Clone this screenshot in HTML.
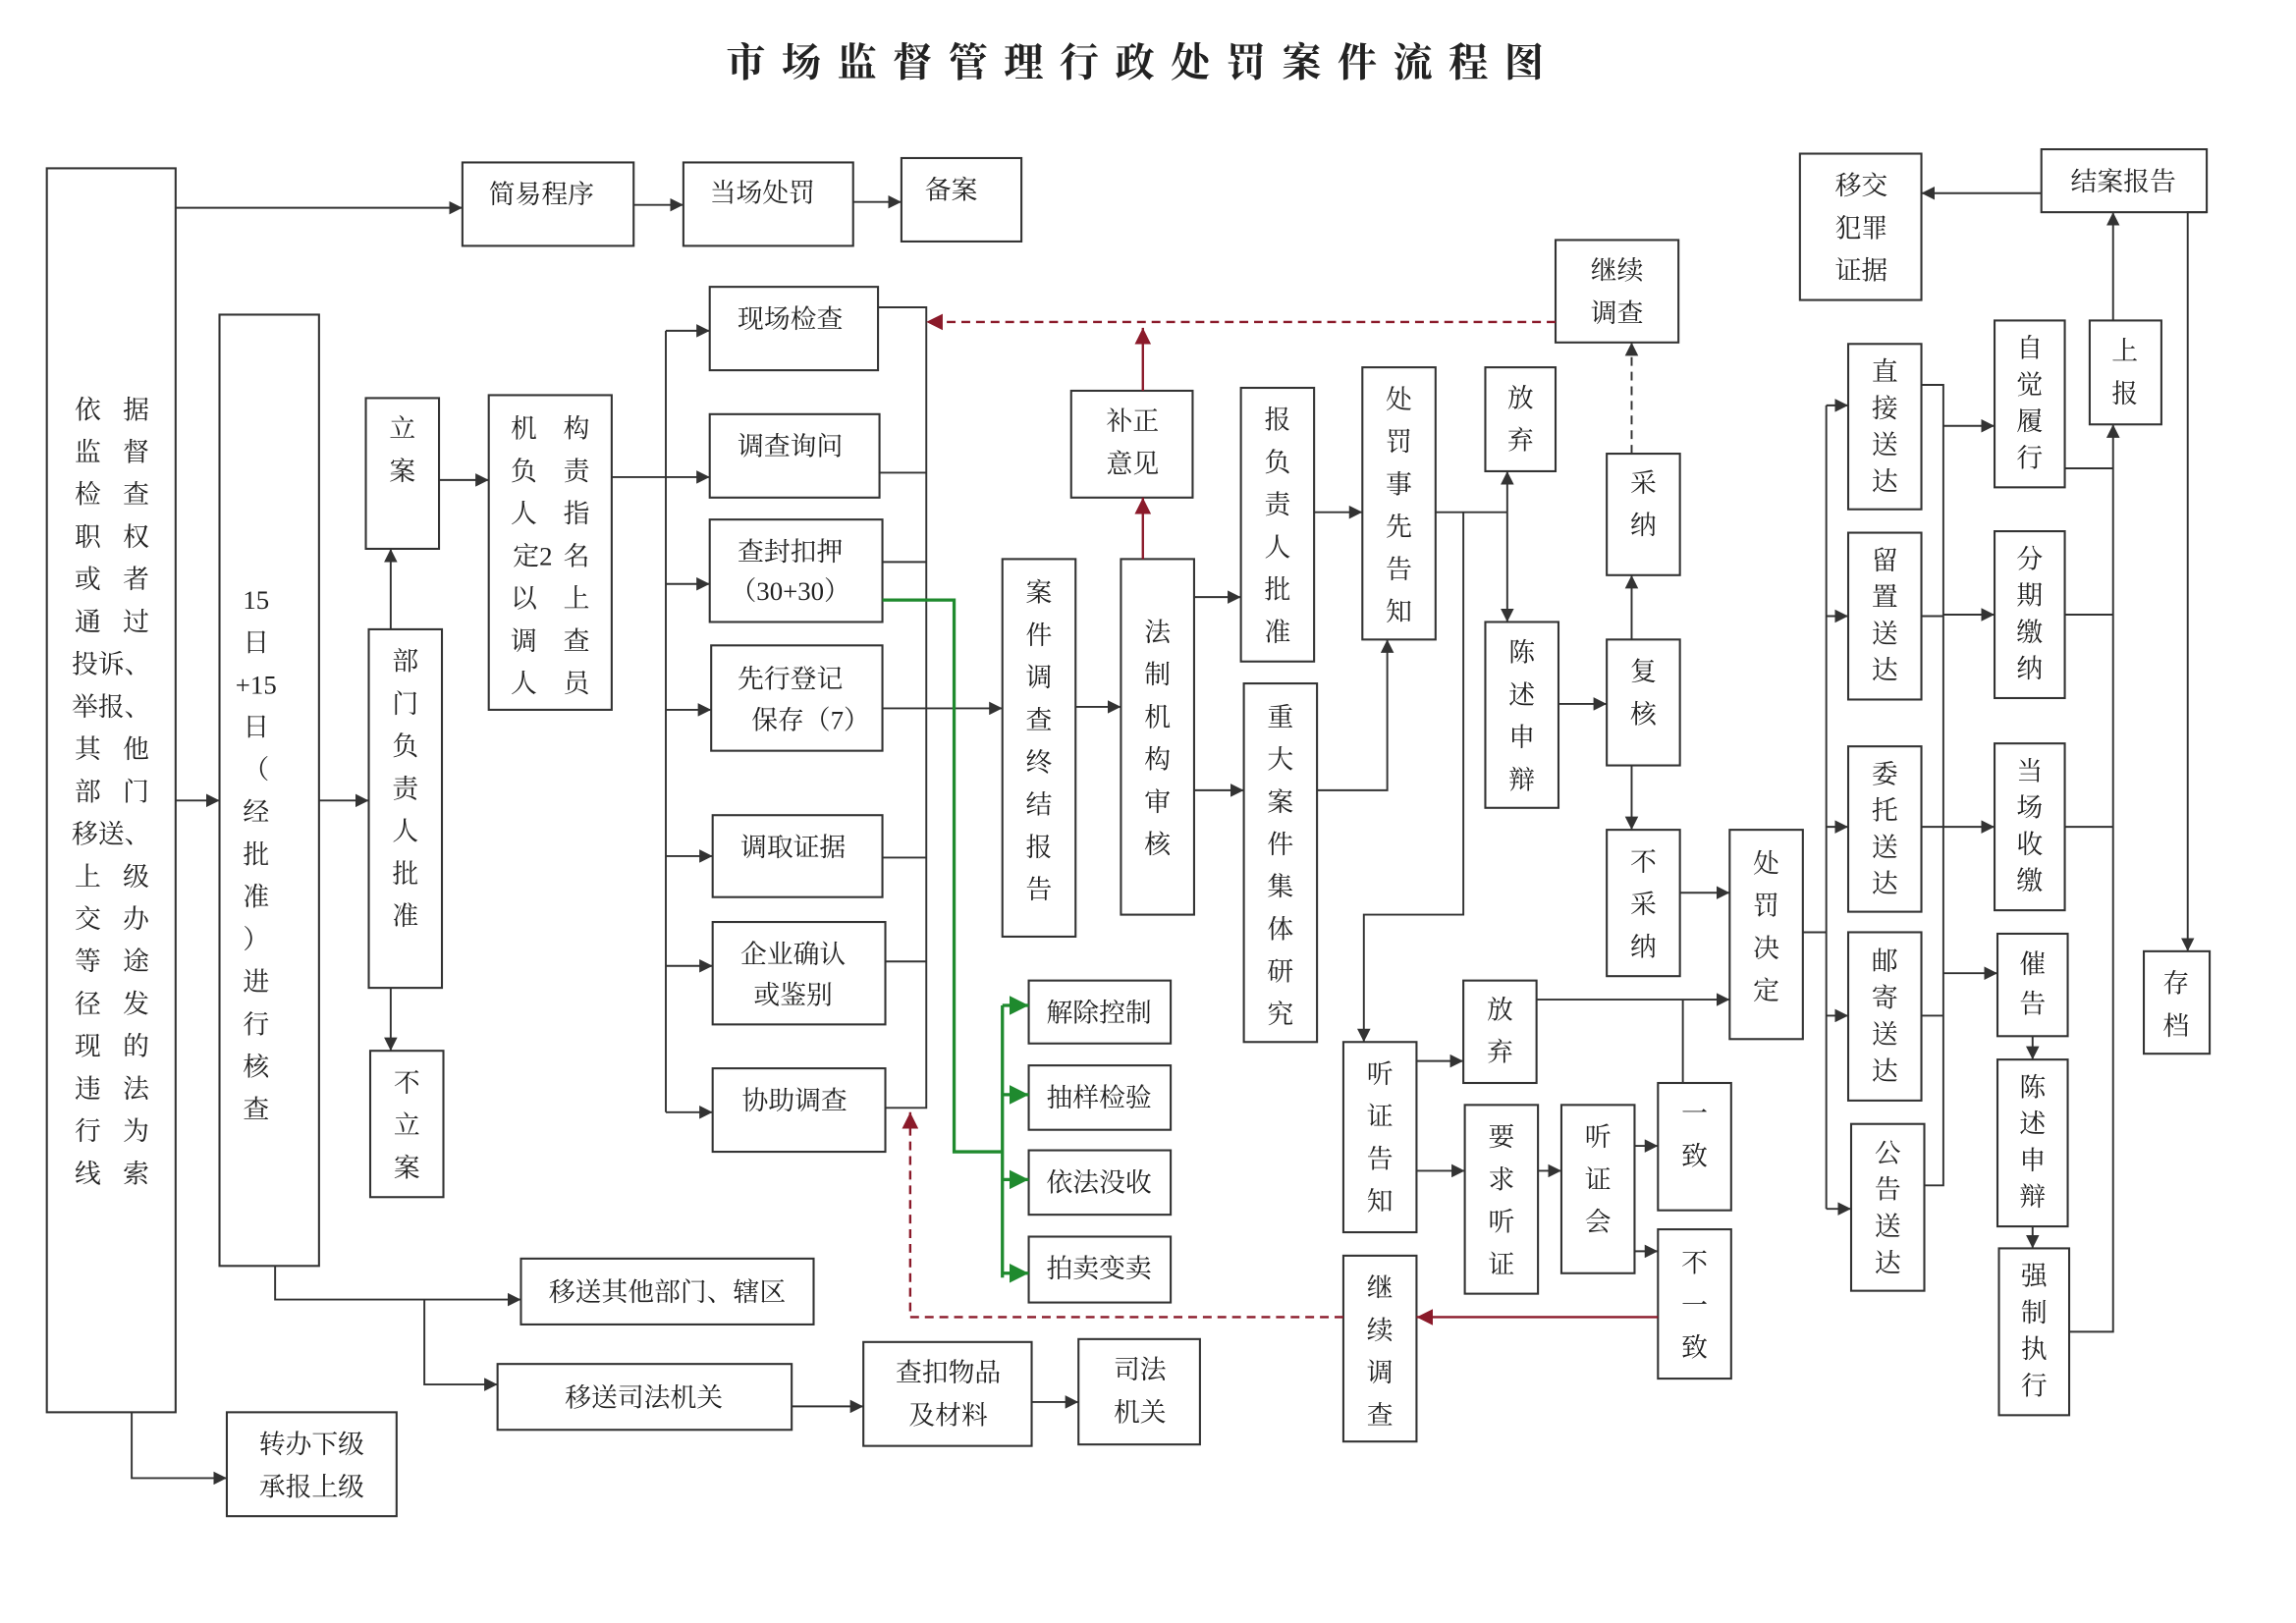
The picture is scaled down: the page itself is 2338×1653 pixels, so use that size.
<!DOCTYPE html>
<html><head><meta charset="utf-8">
<style>
html,body{margin:0;padding:0;background:#fff;}
svg{display:block;}
text{font-family:"Liberation Serif","Noto Serif CJK SC",serif;font-size:18px;fill:#222;}
.t{text-anchor:middle;}
rect{fill:#fff;stroke:#333;stroke-width:1.4;}
.l{fill:none;stroke:#333;stroke-width:1.3;}
.r{fill:none;stroke:#8b1a2a;stroke-width:1.6;}
.rd{fill:none;stroke:#8b1a2a;stroke-width:1.6;stroke-dasharray:6 4;}
.g{fill:none;stroke:#1f8a2e;stroke-width:2.2;}
.d{fill:none;stroke:#333;stroke-width:1.3;stroke-dasharray:6 4;}
</style></head><body>
<svg width="2338" height="1653" viewBox="0 0 1569 1109" preserveAspectRatio="none" xmlns="http://www.w3.org/2000/svg">
<defs>
<marker id="a" viewBox="0 0 10 10" refX="10" refY="5" markerWidth="7" markerHeight="7" orient="auto-start-reverse"><path d="M0,0L10,5L0,10z" fill="#333"/></marker>
<marker id="ar" viewBox="0 0 10 10" refX="10" refY="5" markerWidth="7" markerHeight="7" orient="auto-start-reverse"><path d="M0,0L10,5L0,10z" fill="#8b1a2a"/></marker>
<marker id="ag" viewBox="0 0 10 10" refX="10" refY="5" markerWidth="6" markerHeight="6" orient="auto-start-reverse"><path d="M0,0L10,5L0,10z" fill="#1f8a2e"/></marker>
</defs>

<text x="781" y="52" class="t" style="font-size:27px;font-weight:bold;letter-spacing:11px">市场监督管理行政处罚案件流程图</text>

<!-- Box A -->
<rect x="32" y="115" width="88" height="850"/>
<g class="t">
<text x="60" y="286">依</text><text x="93" y="286">据</text>
<text x="60" y="315">监</text><text x="93" y="315">督</text>
<text x="60" y="344">检</text><text x="93" y="344">查</text>
<text x="60" y="373">职</text><text x="93" y="373">权</text>
<text x="60" y="402">或</text><text x="93" y="402">者</text>
<text x="60" y="431">通</text><text x="93" y="431">过</text>
<text x="76" y="460">投诉、</text>
<text x="76" y="489">举报、</text>
<text x="60" y="518">其</text><text x="93" y="518">他</text>
<text x="60" y="547">部</text><text x="93" y="547">门</text>
<text x="76" y="576">移送、</text>
<text x="60" y="605">上</text><text x="93" y="605">级</text>
<text x="60" y="634">交</text><text x="93" y="634">办</text>
<text x="60" y="663">等</text><text x="93" y="663">途</text>
<text x="60" y="692">径</text><text x="93" y="692">发</text>
<text x="60" y="721">现</text><text x="93" y="721">的</text>
<text x="60" y="750">违</text><text x="93" y="750">法</text>
<text x="60" y="779">行</text><text x="93" y="779">为</text>
<text x="60" y="808">线</text><text x="93" y="808">索</text>
</g>

<!-- Box B -->
<rect x="150" y="215" width="68" height="650"/>
<text class="t" x="175" y="416">15<tspan x="175" dy="29">日</tspan><tspan x="175" dy="29">+15</tspan><tspan x="175" dy="29">日</tspan><tspan x="175" dy="29">（</tspan><tspan x="175" dy="29">经</tspan><tspan x="175" dy="29">批</tspan><tspan x="175" dy="29">准</tspan><tspan x="175" dy="29">）</tspan><tspan x="175" dy="29">进</tspan><tspan x="175" dy="29">行</tspan><tspan x="175" dy="29">核</tspan><tspan x="175" dy="29">查</tspan></text>

<rect x="250" y="272" width="50" height="103"/>
<text class="t" x="275" y="299">立<tspan x="275" dy="29">案</tspan></text>
<rect x="252" y="430" width="50" height="245"/>
<text class="t" x="277" y="458">部<tspan x="277" dy="29">门</tspan><tspan x="277" dy="29">负</tspan><tspan x="277" dy="29">责</tspan><tspan x="277" dy="29">人</tspan><tspan x="277" dy="29">批</tspan><tspan x="277" dy="29">准</tspan></text>
<rect x="253" y="718" width="50" height="100"/>
<text class="t" x="278" y="746">不<tspan x="278" dy="29">立</tspan><tspan x="278" dy="29">案</tspan></text>

<rect x="334" y="270" width="84" height="215"/>
<g class="t">
<text x="358" y="299">机</text><text x="394" y="299">构</text>
<text x="358" y="328">负</text><text x="394" y="328">责</text>
<text x="358" y="357">人</text><text x="394" y="357">指</text>
<text x="364" y="386">定2</text><text x="394" y="386">名</text>
<text x="358" y="415">以</text><text x="394" y="415">上</text>
<text x="358" y="444">调</text><text x="394" y="444">查</text>
<text x="358" y="473">人</text><text x="394" y="473">员</text>
</g>

<!-- top row -->
<rect x="316" y="111" width="117" height="57"/><text class="t" x="370" y="139">简易程序</text>
<rect x="467" y="111" width="116" height="57"/><text class="t" x="521" y="138">当场处罚</text>
<rect x="616" y="108" width="82" height="57"/><text class="t" x="650" y="136">备案</text>

<!-- investigation boxes -->
<rect x="485" y="196" width="115" height="57"/><text class="t" x="540" y="224">现场检查</text>
<rect x="485" y="283" width="116" height="57"/><text class="t" x="540" y="311">调查询问</text>
<rect x="485" y="355" width="118" height="70"/><text class="t" x="540" y="383">查封扣押<tspan x="540" dy="27">（30+30）</tspan></text>
<rect x="486" y="441" width="117" height="72"/><text class="t" x="540" y="470">先行登记<tspan x="554" dy="28">保存（7）</tspan></text>
<rect x="487" y="557" width="116" height="56"/><text class="t" x="542" y="585">调取证据</text>
<rect x="487" y="630" width="118" height="70"/><text class="t" x="542" y="658">企业确认<tspan x="542" dy="28">或鉴别</tspan></text>
<rect x="487" y="730" width="118" height="57"/><text class="t" x="543" y="758">协助调查</text>

<rect x="685" y="382" width="50" height="258"/>
<text class="t" x="710" y="411">案<tspan x="710" dy="29">件</tspan><tspan x="710" dy="29">调</tspan><tspan x="710" dy="29">查</tspan><tspan x="710" dy="29">终</tspan><tspan x="710" dy="29">结</tspan><tspan x="710" dy="29">报</tspan><tspan x="710" dy="29">告</tspan></text>
<rect x="766" y="382" width="50" height="243"/>
<text class="t" x="791" y="438">法<tspan x="791" dy="29">制</tspan><tspan x="791" dy="29">机</tspan><tspan x="791" dy="29">构</tspan><tspan x="791" dy="29">审</tspan><tspan x="791" dy="29">核</tspan></text>
<rect x="732" y="267" width="83" height="73"/><text class="t" x="774" y="294">补正<tspan x="774" dy="29">意见</tspan></text>
<rect x="1063" y="164" width="84" height="70"/><text class="t" x="1105" y="191">继续<tspan x="1105" dy="29">调查</tspan></text>
<rect x="848" y="265" width="50" height="187"/>
<text class="t" x="873" y="293">报<tspan x="873" dy="29">负</tspan><tspan x="873" dy="29">责</tspan><tspan x="873" dy="29">人</tspan><tspan x="873" dy="29">批</tspan><tspan x="873" dy="29">准</tspan></text>
<rect x="850" y="467" width="50" height="245"/>
<text class="t" x="875" y="496">重<tspan x="875" dy="29">大</tspan><tspan x="875" dy="29">案</tspan><tspan x="875" dy="29">件</tspan><tspan x="875" dy="29">集</tspan><tspan x="875" dy="29">体</tspan><tspan x="875" dy="29">研</tspan><tspan x="875" dy="29">究</tspan></text>
<rect x="931" y="251" width="50" height="186"/>
<text class="t" x="956" y="279">处<tspan x="956" dy="29">罚</tspan><tspan x="956" dy="29">事</tspan><tspan x="956" dy="29">先</tspan><tspan x="956" dy="29">告</tspan><tspan x="956" dy="29">知</tspan></text>
<rect x="1015" y="251" width="48" height="71"/><text class="t" x="1039" y="278">放<tspan x="1039" dy="29">弃</tspan></text>
<rect x="1015" y="425" width="50" height="127"/>
<text class="t" x="1040" y="452">陈<tspan x="1040" dy="29">述</tspan><tspan x="1040" dy="29">申</tspan><tspan x="1040" dy="29">辩</tspan></text>
<rect x="1098" y="310" width="50" height="83"/><text class="t" x="1123" y="336">采<tspan x="1123" dy="29">纳</tspan></text>
<rect x="1098" y="437" width="50" height="86"/><text class="t" x="1123" y="465">复<tspan x="1123" dy="29">核</tspan></text>
<rect x="1098" y="567" width="50" height="100"/><text class="t" x="1123" y="595">不<tspan x="1123" dy="29">采</tspan><tspan x="1123" dy="29">纳</tspan></text>
<rect x="1182" y="567" width="50" height="143"/>
<text class="t" x="1207" y="596">处<tspan x="1207" dy="29">罚</tspan><tspan x="1207" dy="29">决</tspan><tspan x="1207" dy="29">定</tspan></text>
<rect x="918" y="712" width="50" height="130"/>
<text class="t" x="943" y="740">听<tspan x="943" dy="29">证</tspan><tspan x="943" dy="29">告</tspan><tspan x="943" dy="29">知</tspan></text>
<rect x="1000" y="670" width="50" height="70"/><text class="t" x="1025" y="696">放<tspan x="1025" dy="29">弃</tspan></text>
<rect x="1001" y="755" width="50" height="129"/>
<text class="t" x="1026" y="783">要<tspan x="1026" dy="29">求</tspan><tspan x="1026" dy="29">听</tspan><tspan x="1026" dy="29">证</tspan></text>
<rect x="1067" y="755" width="50" height="115"/>
<text class="t" x="1092" y="783">听<tspan x="1092" dy="29">证</tspan><tspan x="1092" dy="29">会</tspan></text>
<rect x="1133" y="740" width="50" height="87"/><text class="t" x="1158" y="767">一<tspan x="1158" dy="29">致</tspan></text>
<rect x="1133" y="840" width="50" height="102"/><text class="t" x="1158" y="869">不<tspan x="1158" dy="29">一</tspan><tspan x="1158" dy="29">致</tspan></text>
<rect x="918" y="858" width="50" height="127"/>
<text class="t" x="943" y="886">继<tspan x="943" dy="29">续</tspan><tspan x="943" dy="29">调</tspan><tspan x="943" dy="29">查</tspan></text>

<!-- green boxes -->
<rect x="703" y="670" width="97" height="43"/><text class="t" x="751" y="698">解除控制</text>
<rect x="703" y="728" width="97" height="44"/><text class="t" x="751" y="756">抽样检验</text>
<rect x="703" y="786" width="97" height="44"/><text class="t" x="751" y="814">依法没收</text>
<rect x="703" y="845" width="97" height="45"/><text class="t" x="751" y="873">拍卖变卖</text>

<!-- bottom -->
<rect x="356" y="860" width="200" height="45"/><text class="t" x="456" y="889">移送其他部门、辖区</text>
<rect x="340" y="932" width="201" height="45"/><text class="t" x="440" y="961">移送司法机关</text>
<rect x="590" y="917" width="115" height="71"/><text class="t" x="648" y="944">查扣物品<tspan x="648" dy="29">及材料</tspan></text>
<rect x="737" y="915" width="83" height="72"/><text class="t" x="779" y="942">司法<tspan x="779" dy="29">机关</tspan></text>
<rect x="155" y="965" width="116" height="71"/><text class="t" x="213" y="993">转办下级<tspan x="213" dy="29">承报上级</tspan></text>

<!-- right part -->
<rect x="1230" y="105" width="83" height="100"/><text class="t" x="1272" y="133">移交<tspan x="1272" dy="29">犯罪</tspan><tspan x="1272" dy="29">证据</tspan></text>
<rect x="1395" y="102" width="113" height="43"/><text class="t" x="1451" y="130">结案报告</text>
<rect x="1428" y="219" width="49" height="71"/><text class="t" x="1452" y="246">上<tspan x="1452" dy="29">报</tspan></text>
<rect x="1465" y="650" width="45" height="70"/><text class="t" x="1487" y="678">存<tspan x="1487" dy="29">档</tspan></text>
<rect x="1263" y="235" width="50" height="113"/><text class="t" x="1288" y="260">直<tspan x="1288" dy="25">接</tspan><tspan x="1288" dy="25">送</tspan><tspan x="1288" dy="25">达</tspan></text>
<rect x="1263" y="364" width="50" height="114"/><text class="t" x="1288" y="389">留<tspan x="1288" dy="25">置</tspan><tspan x="1288" dy="25">送</tspan><tspan x="1288" dy="25">达</tspan></text>
<rect x="1263" y="510" width="50" height="113"/><text class="t" x="1288" y="535">委<tspan x="1288" dy="25">托</tspan><tspan x="1288" dy="25">送</tspan><tspan x="1288" dy="25">达</tspan></text>
<rect x="1263" y="637" width="50" height="115"/><text class="t" x="1288" y="663">邮<tspan x="1288" dy="25">寄</tspan><tspan x="1288" dy="25">送</tspan><tspan x="1288" dy="25">达</tspan></text>
<rect x="1265" y="768" width="50" height="114"/><text class="t" x="1290" y="794">公<tspan x="1290" dy="25">告</tspan><tspan x="1290" dy="25">送</tspan><tspan x="1290" dy="25">达</tspan></text>
<rect x="1363" y="219" width="48" height="114"/><text class="t" x="1387" y="244">自<tspan x="1387" dy="25">觉</tspan><tspan x="1387" dy="25">履</tspan><tspan x="1387" dy="25">行</tspan></text>
<rect x="1363" y="363" width="48" height="114"/><text class="t" x="1387" y="388">分<tspan x="1387" dy="25">期</tspan><tspan x="1387" dy="25">缴</tspan><tspan x="1387" dy="25">纳</tspan></text>
<rect x="1363" y="508" width="48" height="114"/><text class="t" x="1387" y="533">当<tspan x="1387" dy="25">场</tspan><tspan x="1387" dy="25">收</tspan><tspan x="1387" dy="25">缴</tspan></text>
<rect x="1365" y="638" width="48" height="70"/><text class="t" x="1389" y="665">催<tspan x="1389" dy="27">告</tspan></text>
<rect x="1365" y="724" width="48" height="114"/><text class="t" x="1389" y="749">陈<tspan x="1389" dy="25">述</tspan><tspan x="1389" dy="25">申</tspan><tspan x="1389" dy="25">辩</tspan></text>
<rect x="1366" y="853" width="48" height="114"/><text class="t" x="1390" y="878">强<tspan x="1390" dy="25">制</tspan><tspan x="1390" dy="25">执</tspan><tspan x="1390" dy="25">行</tspan></text>

<!-- connectors -->
<g class="l">
<path d="M120,142H316" marker-end="url(#a)"/>
<path d="M433,140H467" marker-end="url(#a)"/>
<path d="M583,138H616" marker-end="url(#a)"/>
<path d="M120,547H150" marker-end="url(#a)"/>
<path d="M218,547H252" marker-end="url(#a)"/>
<path d="M267,430V375" marker-end="url(#a)"/>
<path d="M267,675V718" marker-end="url(#a)"/>
<path d="M300,328H334" marker-end="url(#a)"/>
<path d="M418,326H485" marker-end="url(#a)"/>
<path d="M455,226V760"/>
<path d="M455,226H485" marker-end="url(#a)"/>
<path d="M455,399H485" marker-end="url(#a)"/>
<path d="M455,485H486" marker-end="url(#a)"/>
<path d="M455,585H487" marker-end="url(#a)"/>
<path d="M455,660H487" marker-end="url(#a)"/>
<path d="M455,760H487" marker-end="url(#a)"/>
<path d="M600,210H633V757H605"/>
<path d="M601,323H633M603,384H633M603,586H633M605,657H633"/>
<path d="M603,484H685" marker-end="url(#a)"/>
<path d="M735,483H766" marker-end="url(#a)"/>
<path d="M816,408H848" marker-end="url(#a)"/>
<path d="M816,540H850" marker-end="url(#a)"/>
<path d="M898,350H931" marker-end="url(#a)"/>
<path d="M900,540H948V437" marker-end="url(#a)"/>
<path d="M981,350H1030"/>
<path d="M1030,350V322" marker-end="url(#a)"/>
<path d="M1030,350V425" marker-end="url(#a)"/>
<path d="M1000,350V625H932V712" marker-end="url(#a)"/>
<path d="M1065,481H1098" marker-end="url(#a)"/>
<path d="M1115,437V393" marker-end="url(#a)"/>
<path d="M1115,523V567" marker-end="url(#a)"/>
<path d="M1148,610H1182" marker-end="url(#a)"/>
<path d="M968,725H1000" marker-end="url(#a)"/>
<path d="M968,800H1001" marker-end="url(#a)"/>
<path d="M1051,800H1067" marker-end="url(#a)"/>
<path d="M1117,783H1133" marker-end="url(#a)"/>
<path d="M1117,855H1133" marker-end="url(#a)"/>
<path d="M1050,683H1182" marker-end="url(#a)"/>
<path d="M1150,740V683"/>
<path d="M188,865V888H356" marker-end="url(#a)"/>
<path d="M290,888V946H340" marker-end="url(#a)"/>
<path d="M541,961H590" marker-end="url(#a)"/>
<path d="M705,958H737" marker-end="url(#a)"/>
<path d="M90,965V1010H155" marker-end="url(#a)"/>
<path d="M1232,637H1248"/>
<path d="M1248,277V826"/>
<path d="M1248,277H1263" marker-end="url(#a)"/>
<path d="M1248,421H1263" marker-end="url(#a)"/>
<path d="M1248,565H1263" marker-end="url(#a)"/>
<path d="M1248,694H1263" marker-end="url(#a)"/>
<path d="M1248,826H1265" marker-end="url(#a)"/>
<path d="M1313,263H1328V810H1315"/>
<path d="M1313,421H1328M1313,565H1328M1313,694H1328"/>
<path d="M1328,291H1363" marker-end="url(#a)"/>
<path d="M1328,420H1363" marker-end="url(#a)"/>
<path d="M1328,565H1363" marker-end="url(#a)"/>
<path d="M1328,665H1365" marker-end="url(#a)"/>
<path d="M1389,708V724" marker-end="url(#a)"/>
<path d="M1389,838V853" marker-end="url(#a)"/>
<path d="M1411,320H1444M1411,420H1444M1411,565H1444"/>
<path d="M1414,910H1444V290" marker-end="url(#a)"/>
<path d="M1444,219V145" marker-end="url(#a)"/>
<path d="M1395,132H1313" marker-end="url(#a)"/>
<path d="M1508,145H1495V650" marker-end="url(#a)"/>
</g>
<path class="d" d="M1115,310V234" marker-end="url(#a)"/>
<!-- red -->
<path class="r" d="M781,382V340" marker-end="url(#ar)"/>
<path class="r" d="M781,267V224" marker-end="url(#ar)"/>
<path class="rd" d="M1063,220H633" marker-end="url(#ar)"/>
<path class="r" d="M1133,900H968" marker-end="url(#ar)"/>
<path class="rd" d="M918,900H622V760" marker-end="url(#ar)"/>
<!-- green -->
<path class="g" d="M603,410H652V787H685"/>
<path class="g" d="M685,687V873"/>
<path class="g" d="M685,687H703" marker-end="url(#ag)"/>
<path class="g" d="M685,748H703" marker-end="url(#ag)"/>
<path class="g" d="M685,806H703" marker-end="url(#ag)"/>
<path class="g" d="M685,870H703" marker-end="url(#ag)"/>
</svg>
</body></html>
